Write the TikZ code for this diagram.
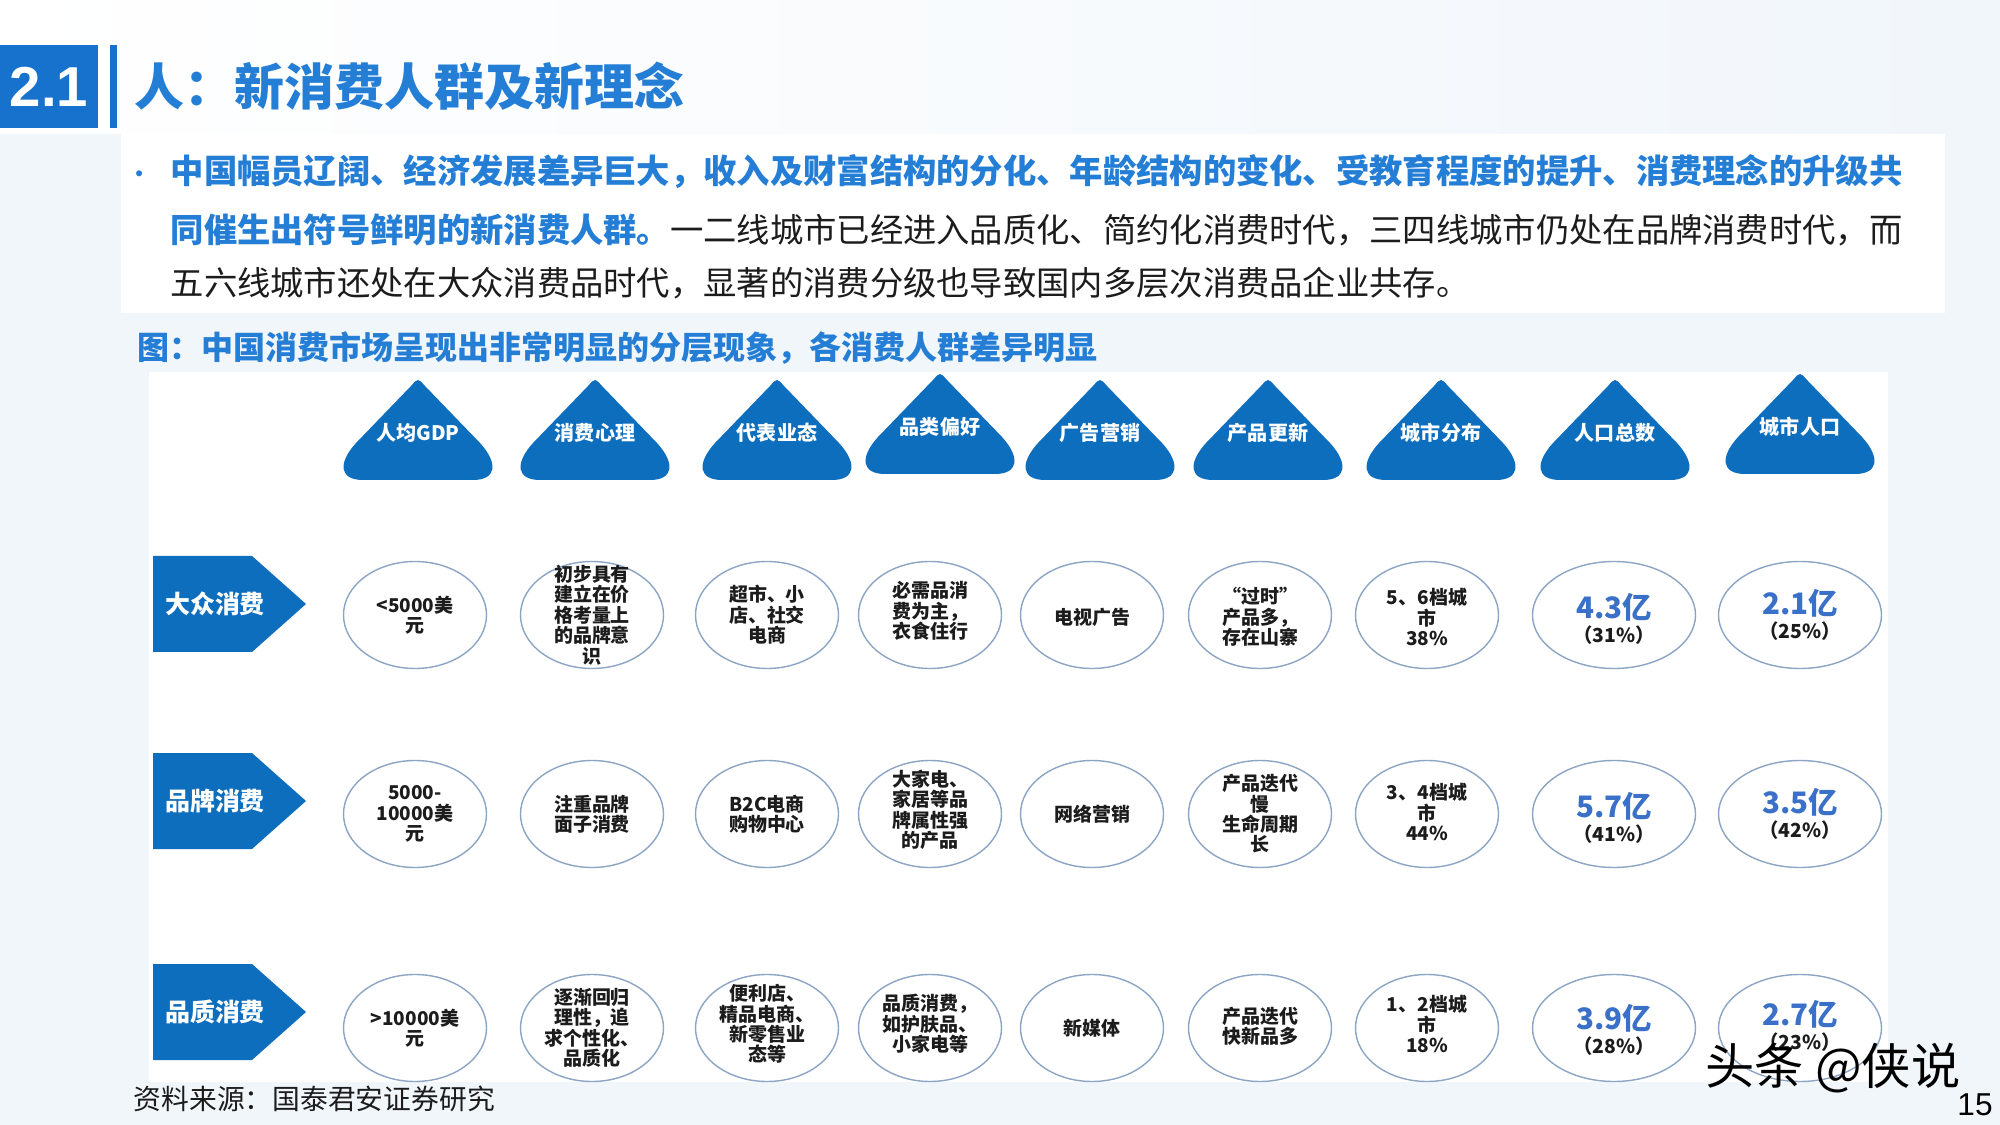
\documentclass[tikz,border=0pt]{standalone}
\usepackage{fontspec}
\setmainfont{Noto Sans CJK SC}
\newfontfamily\latinsans{Liberation Sans}
\usetikzlibrary{positioning, shapes.geometric}
\definecolor{hdrBlue}{RGB}{14,110,190}
\definecolor{boxBlue}{RGB}{22,114,204}
\definecolor{titleBlue}{RGB}{36,126,214}
\definecolor{numBlue}{RGB}{58,112,200}
\definecolor{ringGray}{RGB}{140,165,196}
\definecolor{pageTint}{RGB}{241,246,251}
\definecolor{inkBlack}{RGB}{28,28,28}
\newcommand{\numtext}[1]{{\color{numBlue}\fontsize{8.4}{9}\selectfont #1}}
\newcommand{\pcttext}[1]{{\fontsize{5.5}{6.5}\selectfont #1}}
\tikzset{
  ring/.style={draw=ringGray, line width=0.4pt, fill=white},
  celltext/.style={align=center, inner sep=0pt, text=inkBlack,
                   font=\fontsize{5.4}{5.8}\selectfont\bfseries},
  hdrtext/.style={text=white, inner sep=0pt, font=\fontsize{5.7}{7}\selectfont\bfseries},
  rowtext/.style={text=white, inner sep=0pt, font=\fontsize{7.1}{8}\selectfont\bfseries},
  bodyline/.style={anchor=west, inner sep=0pt, text=inkBlack,
                   font=\fontsize{9.47}{11}\selectfont},
}

\begin{document}
\begin{tikzpicture}[x=0.01cm, y=-0.01cm]
        \useasboundingbox (0,0) rectangle (2000,1125);
        % page background
        \fill[pageTint] (0,0) rectangle (2000,1125);
        \shade[left color=white, right color=pageTint] (0,0) rectangle (2000,134);
        \fill[white] (121,134) rectangle (1945,313);
        \fill[white] (149,372) rectangle (1888,1082);

        % heading
        \fill[boxBlue] (0,45) rectangle (98,128);
        \fill[boxBlue] (110,45) rectangle (117,128);
        \node[text=white, font=\latinsans\fontsize{16}{18}\selectfont\bfseries] (secno) at (49,87) {2.1};
        \node[anchor=west, inner sep=0pt, text=titleBlue, font=\fontsize{14.2}{16}\selectfont\bfseries]
          (title) at (134,86) {人：新消费人群及新理念};

        % intro text
        \node[inner sep=0pt, text=titleBlue, font=\fontsize{8}{9}\selectfont] (bul) at (140,178) {•};
        \node[bodyline] (l1) at (170,172) {\color{titleBlue}\bfseries 中国幅员辽阔、经济发展差异巨大，收入及财富结构的分化、年龄结构的变化、受教育程度的提升、消费理念的升级共};
        \node[bodyline] (l2) at (170,230) {{\color{titleBlue}\bfseries 同催生出符号鲜明的新消费人群。}一二线城市已经进入品质化、简约化消费时代，三四线城市仍处在品牌消费时代，而};
        \node[bodyline] (l3) at (170,283) {五六线城市还处在大众消费品时代，显著的消费分级也导致国内多层次消费品企业共存。};
        \node[anchor=west, inner sep=0pt, text=titleBlue, font=\fontsize{9.1}{10}\selectfont\bfseries]
          (cap) at (137,348) {图：中国消费市场呈现出非常明显的分层现象，各消费人群差异明显};

        % column heads
        \foreach \i/\cx/\hy/\txt in {1/418/379/人均GDP, 2/595/379/消费心理, 3/777/379/代表业态,
            4/940/373/品类偏好, 5/1100/379/广告营销, 6/1268/379/产品更新,
            7/1441/379/城市分布, 8/1615/379/人口总数, 9/1800/373/城市人口} {
          \fill[hdrBlue] (\cx-7,\hy+7) .. controls (\cx,\hy-1) .. (\cx+7,\hy+7)
            -- (\cx+62,\hy+64) .. controls (\cx+81,\hy+85) and (\cx+78,\hy+101) .. (\cx+55,\hy+101)
            -- (\cx-55,\hy+101) .. controls (\cx-78,\hy+101) and (\cx-81,\hy+85) .. (\cx-62,\hy+64)
            -- cycle;
          \node[hdrtext] (h\i) at (\cx,\hy+54) {\txt};
        }

        % row heads
        \foreach \r/\ry/\txt in {A/604/大众消费, B/801/品牌消费, C/1012/品质消费} {
          \fill[hdrBlue] (153,\ry-48) -- (252,\ry-48) -- (306,\ry) -- (252,\ry+48) -- (153,\ry+48) -- cycle;
          \node[rowtext] (row\r) at (215,\ry) {\txt};
        }

        % cell rings
        \foreach \cx/\rx in {415/71.5, 592/71.5, 767/71.5, 930/71.5, 1092/71.5,
                             1260/71.5, 1427/71.5, 1614/81.5, 1800/81.5}
          \foreach \cy in {615, 814, 1028}
            \draw[ring] (\cx,\cy) ellipse [x radius=\rx, y radius=53.5];

        % row A
        \node[celltext] (tA1) at (415,615) {<5000美\\元};
        \node[celltext] (tA2) at (592,615) {初步具有\\建立在价\\格考量上\\的品牌意\\识};
        \node[celltext] (tA3) at (767,615) {超市、小\\店、社交\\电商};
        \node[celltext] (tA4) at (930,611) {必需品消\\费为主，\\衣食住行};
        \node[celltext] (tA5) at (1092,617) {电视广告};
        \node[celltext] (tA6) at (1260,617) {“过时”\\产品多，\\存在山寨};
        \node[celltext] (tA7) at (1427,617) {5、6档城\\市\\38\%};
        \node[celltext] (tA8) at (1614,619) {\numtext{4.3亿}\\[1pt]\pcttext{（31\%）}};
        \node[celltext] (tA9) at (1800,615) {\numtext{2.1亿}\\[1pt]\pcttext{（25\%）}};

        % row B
        \node[celltext] (tB1) at (415,814) {5000-\\10000美\\元};
        \node[celltext] (tB2) at (592,814) {注重品牌\\面子消费};
        \node[celltext] (tB3) at (767,814) {B2C电商\\购物中心};
        \node[celltext] (tB4) at (930,810) {大家电、\\家居等品\\牌属性强\\的产品};
        \node[celltext] (tB5) at (1092,814) {网络营销};
        \node[celltext] (tB6) at (1260,814) {产品迭代\\慢\\生命周期\\长};
        \node[celltext] (tB7) at (1427,812) {3、4档城\\市\\44\%};
        \node[celltext] (tB8) at (1614,818) {\numtext{5.7亿}\\[1pt]\pcttext{（41\%）}};
        \node[celltext] (tB9) at (1800,814) {\numtext{3.5亿}\\[1pt]\pcttext{（42\%）}};

        % row C
        \node[celltext] (tC1) at (415,1028) {>10000美\\元};
        \node[celltext] (tC2) at (592,1028) {逐渐回归\\理性，追\\求个性化、\\品质化};
        \node[celltext] (tC3) at (767,1024) {便利店、\\精品电商、\\新零售业\\态等};
        \node[celltext] (tC4) at (930,1024) {品质消费，\\如护肤品、\\小家电等};
        \node[celltext] (tC5) at (1092,1028) {新媒体};
        \node[celltext] (tC6) at (1260,1026) {产品迭代\\快新品多};
        \node[celltext] (tC7) at (1427,1024) {1、2档城\\市\\18\%};
        \node[celltext] (tC8) at (1614,1030) {\numtext{3.9亿}\\[1pt]\pcttext{（28\%）}};
        \node[celltext] (tC9) at (1800,1026) {\numtext{2.7亿}\\[1pt]\pcttext{（23\%）}};

        % footer
        \node[anchor=west, inner sep=0pt, text=inkBlack, font=\fontsize{7.9}{9}\selectfont]
          (src) at (133,1099) {资料来源：国泰君安证券研究};
        \node[inner sep=0pt, text=black, font=\fontsize{14}{16}\selectfont] (wm) at (1833,1068) {头条 @侠说};
        \node[inner sep=0pt, text=black, font=\latinsans\fontsize{9}{10}\selectfont] (pg) at (1975,1105) {15};
\end{tikzpicture}
\end{document}
